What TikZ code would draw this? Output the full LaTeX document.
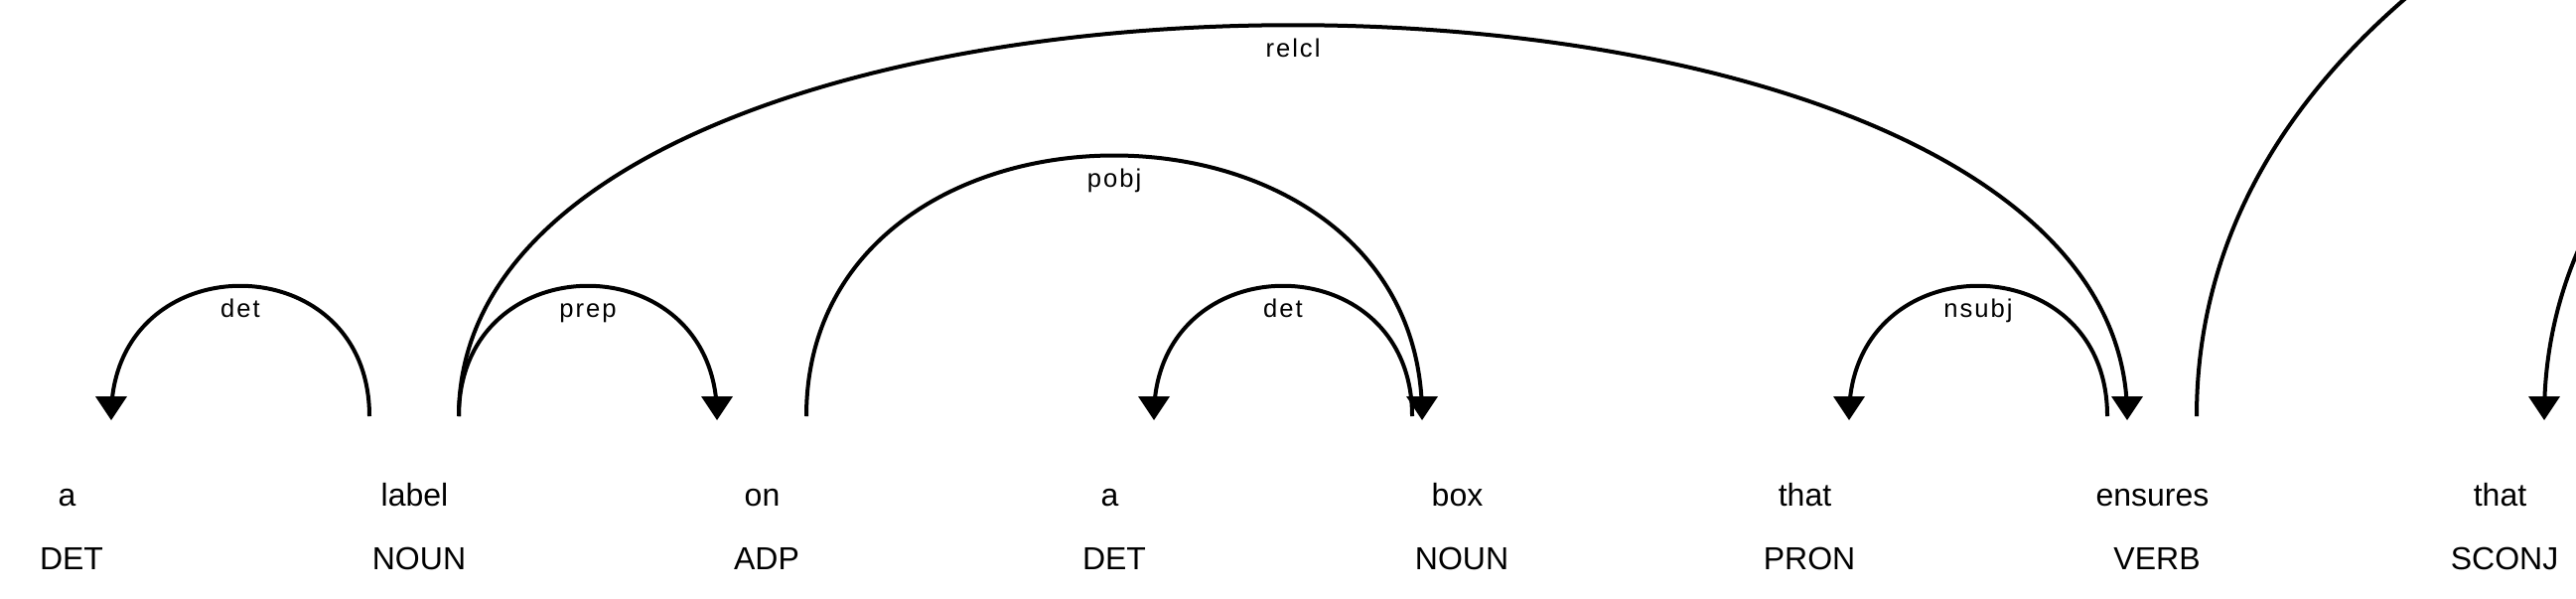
\documentclass[tikz,border=0pt]{standalone}
\usepackage{fontspec}
\setmainfont{Liberation Sans}
\newfontfamily\lblfont[LetterSpace=7.8]{Liberation Sans}
\usetikzlibrary{calc}
\begin{document}
\begin{tikzpicture}[x=0.5pt,y=0.5pt,
  word/.style={font=\fontsize{16}{19}\selectfont, inner sep=0pt, anchor=base},
  lbl/.style={font=\lblfont\fontsize{12.8}{15}\selectfont, inner sep=0pt, anchor=base, pos=0.5, yshift=-16pt},
  arc/.style={line width=2pt, draw=black},
  head/.style={fill=black}]
\path[use as bounding box, fill=white] (0,0) rectangle (2594,602);
\clip (0,0) rectangle (2594,602);

% words
\node[word] (w0) at (67.5,93) {a};
\node[word] (w1) at (417.5,93) {label};
\node[word] (w2) at (767.5,93) {on};
\node[word] (w3) at (1117.5,93) {a};
\node[word] (w4) at (1467.5,93) {box};
\node[word] (w5) at (1817.5,93) {that};
\node[word] (w6) at (2167.5,93) {ensures};
\node[word] (w7) at (2517.5,93) {that};
% tags
\node[word] (t0) at (72,29) {DET};
\node[word] (t1) at (422,29) {NOUN};
\node[word] (t2) at (772,29) {ADP};
\node[word] (t3) at (1122,29) {DET};
\node[word] (t4) at (1472,29) {NOUN};
\node[word] (t5) at (1822,29) {PRON};
\node[word] (t6) at (2172,29) {VERB};
\node[word] (t7) at (2522,29) {SCONJ};

% arc end points
\coordinate (a1s) at (112,183);  \coordinate (a1e) at (372,183);
\coordinate (a2s) at (462,183);  \coordinate (a2e) at (722,183);
\coordinate (a3s) at (1162,183); \coordinate (a3e) at (1422,183);
\coordinate (a4s) at (812,183);  \coordinate (a4e) at (1432,183);
\coordinate (a5s) at (1862,183); \coordinate (a5e) at (2122,183);
\coordinate (a6s) at (462,183);  \coordinate (a6e) at (2142,183);
\coordinate (a7s) at (2212,183); \coordinate (a7e) at (5322,183);
\coordinate (a8s) at (2562,183); \coordinate (a8e) at (5116,183);

% arcs
\draw[arc] (a1s) .. controls ($(a1s)+(0,175)$) and ($(a1e)+(0,175)$) .. (a1e) node[lbl] {det};
\draw[arc] (a2s) .. controls ($(a2s)+(0,175)$) and ($(a2e)+(0,175)$) .. (a2e) node[lbl] {prep};
\draw[arc] (a3s) .. controls ($(a3s)+(0,175)$) and ($(a3e)+(0,175)$) .. (a3e) node[lbl] {det};
\draw[arc] (a4s) .. controls ($(a4s)+(0,350)$) and ($(a4e)+(0,350)$) .. (a4e) node[lbl] {pobj};
\draw[arc] (a5s) .. controls ($(a5s)+(0,175)$) and ($(a5e)+(0,175)$) .. (a5e) node[lbl] {nsubj};
\draw[arc] (a6s) .. controls ($(a6s)+(0,525)$) and ($(a6e)+(0,525)$) .. (a6e) node[lbl] {relcl};
\draw[arc] (a7s) .. controls ($(a7s)+(0,1050)$) and ($(a7e)+(0,1050)$) .. (a7e);
\draw[arc] (a8s) .. controls ($(a8s)+(0,875)$) and ($(a8e)+(0,875)$) .. (a8e);

% arrowheads
\fill[head] (a1s) ++(0,-4) -- ++(-16,24) -- ++(32,0) -- cycle;
\fill[head] (a2e) ++(0,-4) -- ++(-16,24) -- ++(32,0) -- cycle;
\fill[head] (a3s) ++(0,-4) -- ++(-16,24) -- ++(32,0) -- cycle;
\fill[head] (a4e) ++(0,-4) -- ++(-16,24) -- ++(32,0) -- cycle;
\fill[head] (a5s) ++(0,-4) -- ++(-16,24) -- ++(32,0) -- cycle;
\fill[head] (a6e) ++(0,-4) -- ++(-16,24) -- ++(32,0) -- cycle;
\fill[head] (a8s) ++(0,-4) -- ++(-16,24) -- ++(32,0) -- cycle;
\end{tikzpicture}
\end{document}
